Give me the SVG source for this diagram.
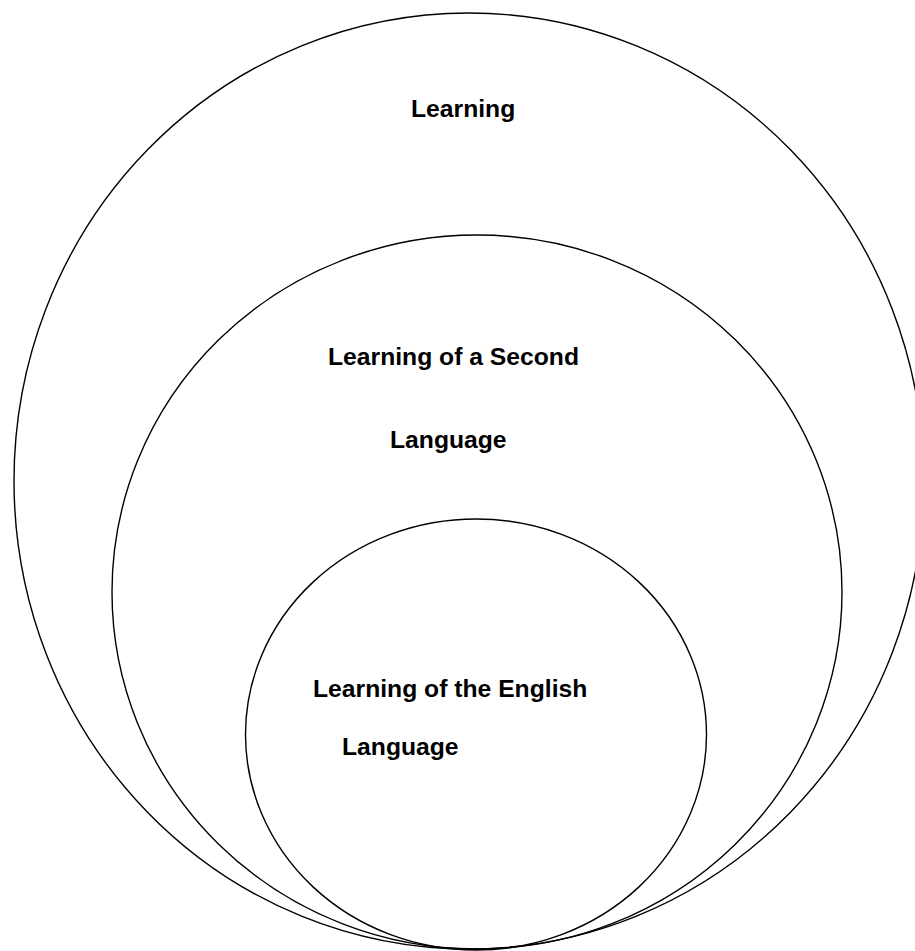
<svg xmlns="http://www.w3.org/2000/svg" width="915" height="951" viewBox="0 0 915 951">
<style>
.c{fill:none;stroke:#000;stroke-width:1.4}
.t{font-family:"Liberation Sans",Arial,sans-serif;font-weight:bold;font-size:24.7px;fill:#000}
</style>
<rect width="915" height="951" fill="#fff"/>
<g id="outer">
<ellipse class="c" cx="469" cy="481" rx="455" ry="468"/>
<text class="t" x="411" y="117">Learning</text>
</g>
<g id="middle">
<ellipse class="c" cx="477" cy="592" rx="365" ry="357"/>
<text class="t" x="328" y="365">Learning of a Second</text>
<text class="t" x="390" y="448">Language</text>
</g>
<g id="inner">
<ellipse class="c" cx="476" cy="734.5" rx="230.5" ry="215.5"/>
<text class="t" x="313" y="697">Learning of the English</text>
<text class="t" x="342" y="755">Language</text>
</g>
<g id="connectors"/>
</svg>
